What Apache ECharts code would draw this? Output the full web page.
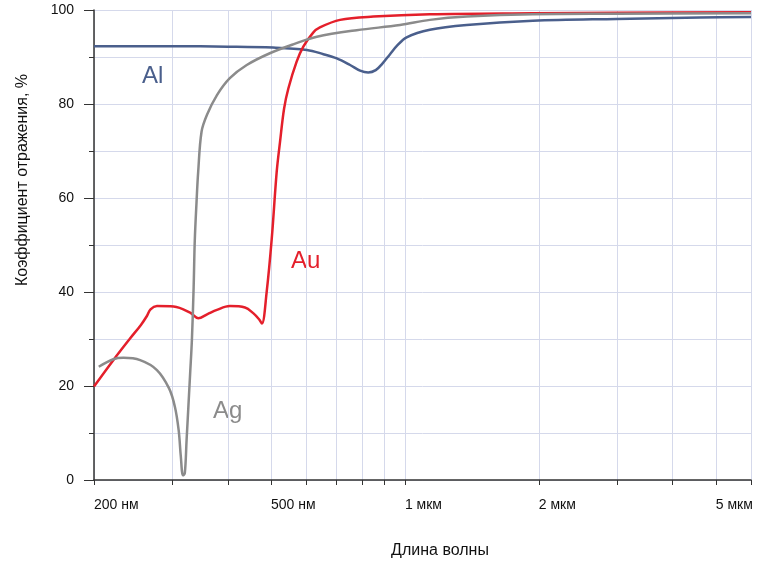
<!DOCTYPE html>
<html>
<head>
<meta charset="utf-8">
<script src="https://cdn.jsdelivr.net/npm/echarts@6/dist/echarts.min.js"></script>
<style>
  html, body { margin: 0; padding: 0; background: #fff; }
  #chart { width: 760px; height: 583px; }
</style>
</head>
<body>
<div id="chart"></div>
<script>
// Reflectance of metals vs wavelength (nm)
const alWl = [200, 300, 400, 505, 602, 656, 703, 753, 793, 827, 860, 890, 926, 958, 1009, 1138, 1377, 1940, 2992, 4603, 6000];
const alR  = [92.3, 92.3, 92.2, 92.0, 91.5, 90.6, 89.7, 88.3, 87.1, 86.7, 87.2, 88.6, 90.6, 92.3, 94.2, 95.8, 96.8, 97.7, 98.1, 98.4, 98.5];

const auWl = [200, 221, 241, 255, 263, 268, 277, 302, 329, 343, 360, 378, 404, 437, 456, 470, 477, 489, 502, 515, 524, 535, 547, 571, 591, 622, 644, 715, 849, 1138, 1940, 3000, 6000];
const auR  = [19.9, 25.5, 30.1, 33.0, 34.9, 36.3, 37.0, 36.9, 35.6, 34.4, 35.3, 36.2, 37.0, 36.7, 35.5, 34.2, 33.3, 40.1, 51.4, 65.6, 72.0, 79.0, 83.3, 89.0, 92.2, 95.2, 96.3, 97.9, 98.6, 99.1, 99.3, 99.4, 99.5];

const agWl = [205, 221, 233, 254, 277, 295, 304, 310, 313.5, 317, 320, 323, 326, 329, 332, 335, 337, 340, 343, 349, 359, 378, 404, 441, 497, 561, 634, 779, 975, 1138, 1377, 1940, 3000, 6000];
const agR  = [24.1, 25.7, 26.0, 25.5, 23.4, 19.5, 15.6, 10.6, 5.0, 1.0, 1.4, 8.5, 15.6, 22.7, 29.8, 41, 51, 59, 65.6, 74.1, 77.7, 81.9, 85.5, 88.3, 90.8, 92.7, 94.3, 95.7, 96.8, 97.9, 98.6, 99.1, 99.2, 99.3];

const xTickValues  = [200, 300, 400, 500, 600, 700, 800, 900, 1000, 2000, 3000, 4000, 5000, 6000];
const xLabelValues = [200, 500, 1000, 2000, 5000];
const xLabelTexts  = ['200 нм', '500 нм', '1 мкм', '2 мкм', '5 мкм'];

const FONT = 'Liberation Sans, Arial, sans-serif';
const GRID_COLOR = '#d5d9eb';

function zip(xs, ys) {
  return xs.map((x, i) => [x, ys[i]]);
}

const chart = echarts.init(document.getElementById('chart'), null, { renderer: 'canvas' });

chart.setOption({
  animation: false,
  grid: { left: 94, right: 9, top: 10, bottom: 103 },
  xAxis: {
    type: 'log',
    logBase: 10,
    min: 200,
    max: 6000,
    axisLine: { show: true, lineStyle: { color: '#333', width: 1.5 } },
    axisTick: { show: true, length: 5, customValues: xTickValues, lineStyle: { color: '#333' } },
    axisLabel: {
      customValues: xLabelValues,
      align: 'left',
      margin: 18,
      fontFamily: FONT, fontSize: 14, color: '#111',
      formatter: v => xLabelTexts[xLabelValues.indexOf(Math.round(v))] || ''
    },
    splitLine: { show: true, lineStyle: { color: GRID_COLOR, width: 1 } },
    minorTick: { show: false },
    minorSplitLine: { show: false }
  },
  yAxis: {
    type: 'value',
    min: 0,
    max: 100,
    interval: 20,
    axisLine: { show: true, lineStyle: { color: '#333', width: 1.5 } },
    axisTick: { show: true, length: 10, lineStyle: { color: '#333' } },
    minorTick: { show: true, splitNumber: 2, length: 5, lineStyle: { color: '#333' } },
    axisLabel: { margin: 20, fontFamily: FONT, fontSize: 14, color: '#111' },
    splitLine: { show: true, lineStyle: { color: GRID_COLOR, width: 1 } },
    minorSplitLine: { show: true, lineStyle: { color: GRID_COLOR, width: 1 } }
  },
  series: [
    { name: 'Al', type: 'line', data: zip(alWl, alR), smooth: 0.35, symbol: 'none',
      lineStyle: { color: '#4a5f8c', width: 2.5 } },
    { name: 'Au', type: 'line', data: zip(auWl, auR), smooth: 0.35, symbol: 'none',
      lineStyle: { color: '#e41f2b', width: 2.5 } },
    { name: 'Ag', type: 'line', data: zip(agWl, agR), smooth: 0.35, symbol: 'none',
      lineStyle: { color: '#8b8b8b', width: 2.5 } }
  ],
  graphic: [
    { type: 'text', left: 142, top: 64, style: { text: 'Al', fill: '#4a5f8c', font: '24px ' + FONT } },
    { type: 'text', left: 291, top: 249, style: { text: 'Au', fill: '#e41f2b', font: '24px ' + FONT } },
    { type: 'text', left: 213, top: 399, style: { text: 'Ag', fill: '#8b8b8b', font: '24px ' + FONT } },
    { type: 'text', x: 440, y: 551, style: { text: 'Длина волны', fill: '#111', font: '16px ' + FONT, align: 'center', verticalAlign: 'middle' } },
    { type: 'text', x: 23, y: 180, rotation: Math.PI / 2, style: { text: 'Коэффициент отражения, %', fill: '#111', font: '16px ' + FONT, align: 'center', verticalAlign: 'middle' } }
  ]
});
</script>
</body>
</html>
